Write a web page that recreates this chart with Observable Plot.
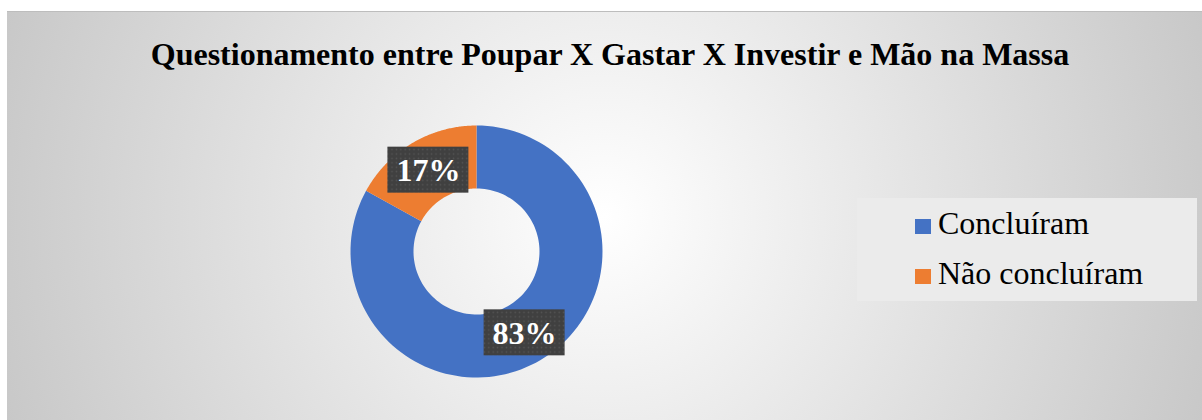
<!DOCTYPE html>
<html>
<head>
<meta charset="utf-8">
<script src="https://cdn.jsdelivr.net/npm/d3@7"></script>
<script src="https://cdn.jsdelivr.net/npm/@observablehq/plot@0.6"></script>
<style>
  html, body { margin: 0; padding: 0; background: #ffffff; }
  #chart {
    position: absolute; left: 7px; top: 11px; width: 1195px; height: 409px;
    background: radial-gradient(circle farthest-corner at 50% 50%, #ffffff 0%, #c8c8c8 100%);
    border-top: 1px solid #bdbdbd;
    box-sizing: border-box;
    overflow: hidden;
  }
  #title {
    position: absolute; left: 0; width: 1206px; top: 26px; text-align: center;
    font-family: "Liberation Serif", "Times New Roman", serif; font-weight: bold;
    font-size: 32px; line-height: 32px; color: #000;
  }
  #plot { position: absolute; left: 0; top: -1px; }
  #legend {
    position: absolute; left: 850px; top: 186px; width: 340px; height: 103px;
    background: #ebebeb;
    font-family: "Liberation Serif", "Times New Roman", serif; font-size: 32px; color: #000;
  }
  .item { position: absolute; left: 58px; height: 36px; line-height: 36px; white-space: nowrap; }
  .sw { display: inline-block; width: 16px; height: 15px; margin-right: 7px; vertical-align: 0px; }
</style>
</head>
<body>
<div id="chart">
  <div id="title"></div>
  <div id="plot"></div>
  <div id="legend"></div>
</div>
<script>
const titleText = "Questionamento entre Poupar X Gastar X Investir e Mão na Massa";
const categories = ["Concluíram", "Não concluíram"];
const values = [83, 17];
const labels = ["83%", "17%"];
const colors = ["#4472C4", "#ED7D31"];

document.getElementById("title").textContent = titleText;

// pie layout (clockwise from 12 o'clock, in data order)
const arcs = d3.pie().sort(null).value((d, i) => values[i])(categories);
const outerR = 1, innerR = 0.5, midR = (outerR + innerR) / 2;

const slicePts = [];
arcs.forEach((a, k) => {
  const n = 120;
  for (let i = 0; i <= n; i++) {
    const t = a.startAngle + (a.endAngle - a.startAngle) * i / n;
    slicePts.push({cat: a.data, x: outerR * Math.sin(t), y: outerR * Math.cos(t)});
  }
  for (let i = n; i >= 0; i--) {
    const t = a.startAngle + (a.endAngle - a.startAngle) * i / n;
    slicePts.push({cat: a.data, x: innerR * Math.sin(t), y: innerR * Math.cos(t)});
  }
});

const labelData = arcs.map((a, k) => {
  const m = (a.startAngle + a.endAngle) / 2;
  return {cat: a.data, label: labels[k], x: midR * Math.sin(m), y: midR * Math.cos(m)};
});

const R = 126, cx = 469, cy = 240;
const hw = 40.5 / R, hh = 23 / R;

const plot = Plot.plot({
  width: 1195,
  height: 409,
  margin: 0,
  style: {background: "transparent", overflow: "visible"},
  x: {domain: [-1, 1], range: [cx - R, cx + R], axis: null},
  y: {domain: [-1, 1], range: [cy + R, cy - R], axis: null},
  color: {domain: categories, range: colors},
  marks: [
    Plot.line(slicePts, {x: "x", y: "y", z: "cat", fill: "cat", stroke: "none", curve: "linear"}),
    Plot.rect(labelData, {
      x1: d => d.x - hw, x2: d => d.x + hw, y1: d => d.y - hh, y2: d => d.y + hh,
      fill: "url(#dots)", ariaLabel: "labelbox"
    }),
    Plot.text(labelData, {
      x: "x", y: "y", text: "label", fill: "white",
      fontFamily: "Liberation Serif, Times New Roman, serif", fontWeight: "bold", fontSize: 32,
      textAnchor: "middle", lineAnchor: "middle", dy: 1
    })
  ]
});

// pattern + shadow for label boxes
const ns = "http://www.w3.org/2000/svg";
const defs = document.createElementNS(ns, "defs");
defs.innerHTML = `<pattern id="dots" width="4.4" height="4.4" patternUnits="userSpaceOnUse">
  <rect width="4.4" height="4.4" fill="#404040"></rect>
  <circle cx="2.2" cy="2.2" r="0.8" fill="#555555"></circle></pattern>`;
plot.insertBefore(defs, plot.firstChild);
const boxG = plot.querySelector('g[aria-label="labelbox"]');
if (boxG) boxG.style.filter = "drop-shadow(3px 3px 2.5px rgba(0,0,0,0.55))";
document.getElementById("plot").appendChild(plot);

// legend
const legend = document.getElementById("legend");
categories.forEach((c, i) => {
  const it = document.createElement("div");
  it.className = "item";
  it.style.top = (7 + i * 50) + "px";
  it.innerHTML = `<span class="sw" style="background:${colors[i]}"></span>${c}`;
  legend.appendChild(it);
});
</script>
</body>
</html>
